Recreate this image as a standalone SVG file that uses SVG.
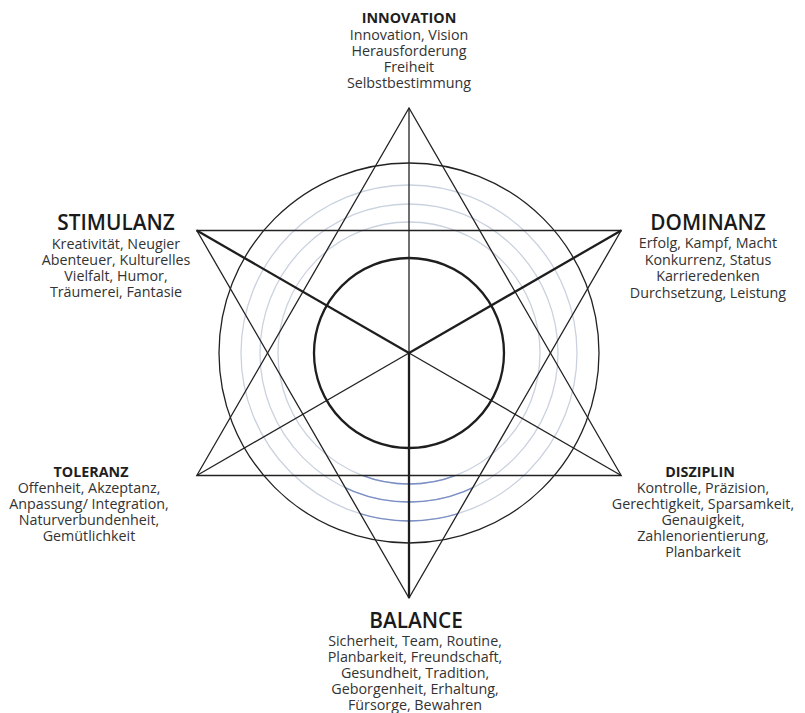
<svg xmlns="http://www.w3.org/2000/svg" width="805" height="713" viewBox="0 0 805 713">
<style>
.t{font-family:"Open Sans","Liberation Sans",sans-serif;font-size:14.3px;fill:#333;text-anchor:middle}
.hs{font-family:"Open Sans","Liberation Sans",sans-serif;font-size:14.3px;font-weight:700;fill:#1e1e1e;text-anchor:middle}
.hl{font-family:"Open Sans","Liberation Sans",sans-serif;font-size:20.8px;font-weight:600;fill:#1a1a1a;text-anchor:middle}
.thin{stroke:#222;stroke-width:1.3;fill:none}
.thick{stroke:#1e1e1e;stroke-width:2.3;fill:none}
.light{stroke:#cad2df;stroke-width:1.3;fill:none}
.blue{stroke:#7b8fc6;stroke-width:1.3;fill:none}
</style>
<defs>
<clipPath id="bc"><polygon points="338,475.5 480,475.5 409,598"/></clipPath>
</defs>
<rect width="805" height="713" fill="#fff"/>
<g id="rings">
<circle class="light" cx="409" cy="353" r="168"/>
<circle class="light" cx="409" cy="353" r="149"/>
<circle class="light" cx="409" cy="353" r="131"/>
<g clip-path="url(#bc)">
<circle class="blue" cx="409" cy="353" r="168"/>
<circle class="blue" cx="409" cy="353" r="149"/>
<circle class="blue" cx="409" cy="353" r="131"/>
</g>
<circle class="thin" cx="409" cy="353" r="190"/>
<circle class="thick" cx="409" cy="353" r="95"/>
</g>
<g id="connectors">
<polygon class="thin" points="409,108 196.8,475.5 621.2,475.5"/>
<polygon class="thin" points="409,598 196.8,230.5 621.2,230.5"/>
<line class="thin" x1="409" y1="353" x2="409" y2="108"/>
<line class="thin" x1="409" y1="353" x2="196.8" y2="475.5"/>
<line class="thin" x1="409" y1="353" x2="621.2" y2="475.5"/>
<line class="thick" x1="409" y1="353" x2="196.8" y2="230.5"/>
<line class="thick" x1="409" y1="353" x2="621.2" y2="230.5"/>
<line class="thick" x1="409" y1="353" x2="409" y2="598"/>
</g>
<g id="innovation">
<text class="hs" x="409" y="23">INNOVATION</text>
<text class="t" x="409" y="39.5">Innovation, Vision</text>
<text class="t" x="409" y="55.5">Herausforderung</text>
<text class="t" x="409" y="71.5">Freiheit</text>
<text class="t" x="409" y="87.5">Selbstbestimmung</text>
</g>
<g id="stimulanz">
<text class="hl" x="116" y="229.5">STIMULANZ</text>
<text class="t" x="116" y="249">Kreativität, Neugier</text>
<text class="t" x="116" y="265">Abenteuer, Kulturelles</text>
<text class="t" x="116" y="281">Vielfalt, Humor,</text>
<text class="t" x="116" y="297">Träumerei, Fantasie</text>
</g>
<g id="dominanz">
<text class="hl" x="708" y="230">DOMINANZ</text>
<text class="t" x="708" y="248">Erfolg, Kampf, Macht</text>
<text class="t" x="708" y="264.5">Konkurrenz, Status</text>
<text class="t" x="708" y="281">Karrieredenken</text>
<text class="t" x="708" y="297.5">Durchsetzung, Leistung</text>
</g>
<g id="toleranz">
<text class="hs" x="91" y="476.5">TOLERANZ</text>
<text class="t" x="89" y="492.5">Offenheit, Akzeptanz,</text>
<text class="t" x="89" y="508.5">Anpassung/ Integration,</text>
<text class="t" x="89" y="524.5">Naturverbundenheit,</text>
<text class="t" x="89" y="540.5">Gemütlichkeit</text>
</g>
<g id="disziplin">
<text class="hs" x="700" y="476.5">DISZIPLIN</text>
<text class="t" x="703" y="492.5">Kontrolle, Präzision,</text>
<text class="t" x="703" y="508.5">Gerechtigkeit, Sparsamkeit,</text>
<text class="t" x="703" y="524.5">Genauigkeit,</text>
<text class="t" x="703" y="540.5">Zahlenorientierung,</text>
<text class="t" x="703" y="556.5">Planbarkeit</text>
</g>
<g id="balance">
<text class="hl" x="416" y="627.5">BALANCE</text>
<text class="t" x="415" y="645.5">Sicherheit, Team, Routine,</text>
<text class="t" x="415" y="661.5">Planbarkeit, Freundschaft,</text>
<text class="t" x="415" y="677.5">Gesundheit, Tradition,</text>
<text class="t" x="415" y="693.5">Geborgenheit, Erhaltung,</text>
<text class="t" x="415" y="709.5">Fürsorge, Bewahren</text>
</g>
</svg>
